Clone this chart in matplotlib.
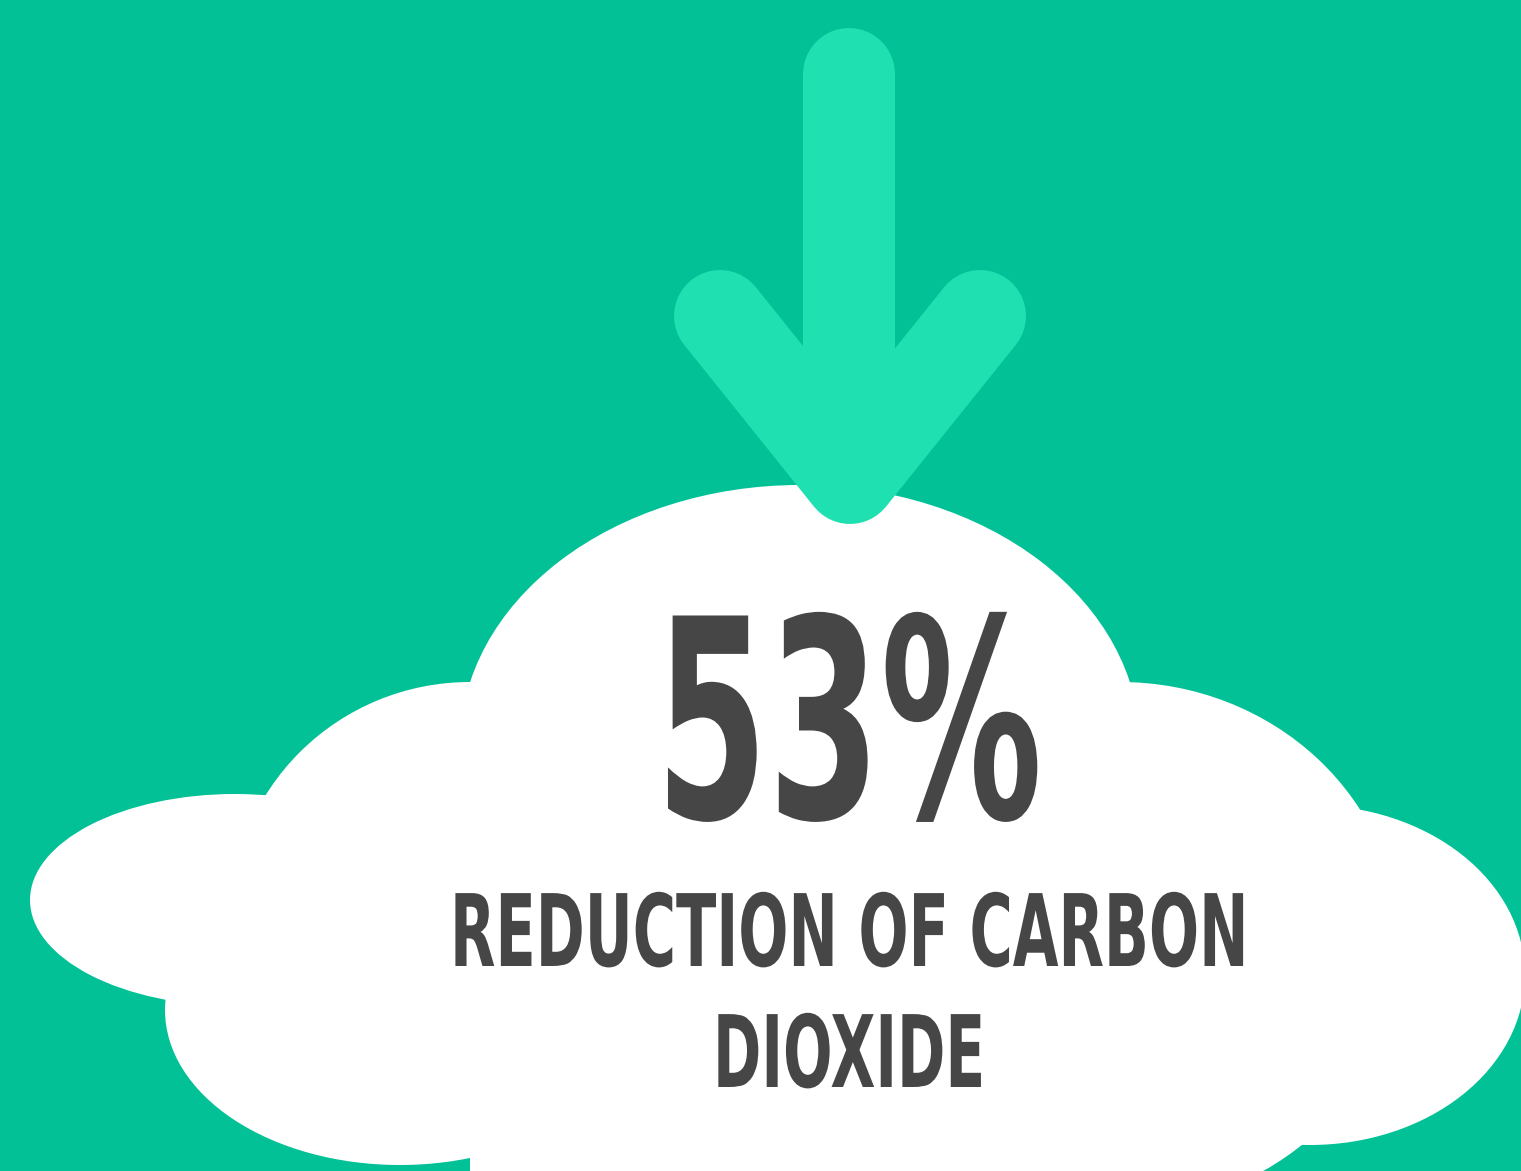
import matplotlib
matplotlib.use('Agg')
import matplotlib.pyplot as plt
from matplotlib.patches import Ellipse, Rectangle
from matplotlib.patheffects import AbstractPathEffect
from matplotlib.transforms import Affine2D

# figure content
percent = 53
caption_lines = ['REDUCTION OF CARBON', 'DIOXIDE']

bg_color = '#02c196'
arrow_color = '#1fe0b0'
text_color = '#464646'


class Squeeze(AbstractPathEffect):
    # rescales the glyphs around an anchor point (display pixels)
    def __init__(self, sx, sy, cx, cy):
        super().__init__()
        self.sx, self.sy = sx, sy
        self.cx, self.cy = cx, cy

    def draw_path(self, renderer, gc, tpath, affine, rgbFace=None):
        a = affine + Affine2D().translate(-self.cx, -self.cy) \
            .scale(self.sx, self.sy).translate(self.cx, self.cy)
        renderer.draw_path(gc, tpath, a, rgbFace)


W, H = 1521, 1171
fig = plt.figure(figsize=(W / 100, H / 100), dpi=100)
fig.patch.set_facecolor(bg_color)
ax = fig.add_axes([0, 0, 1, 1])
ax.set_xlim(0, W)
ax.set_ylim(H, 0)
ax.axis('off')
ax.set_facecolor(bg_color)

# cloud built from overlapping ellipses
blobs = [
    ((800, 745), 680, 520),
    ((235, 900), 410, 212),
    ((470, 920), 480, 476),
    ((400, 1010), 470, 310),
    ((1120, 945), 560, 526),
    ((1310, 975), 430, 340),
]
for c, w, h in blobs:
    ax.add_patch(Ellipse(c, w, h, facecolor='white', edgecolor='none', zorder=1))
ax.add_patch(Rectangle((470, 850), 700, 330, facecolor='white', edgecolor='none', zorder=1))

# arrow
lw = 92 * 72 / 100
ax.plot([849, 849], [74, 470], color=arrow_color, lw=lw, solid_capstyle='round', zorder=2)
ax.plot([720, 850, 980], [316, 478, 316], color=arrow_color, lw=lw,
        solid_capstyle='round', solid_joinstyle='round', zorder=2)

# text: (string, baseline y, drawn size, wanted size, wanted width)
specs = [
    (f'{percent}%', 818, 200, 200, 387),
    (caption_lines[0], 966, 40, 72, 798),
    (caption_lines[1], 1087, 40, 72, 272),
]
texts = []
for s, y, fs, fs_want, target in specs:
    t = ax.text(849, y, s, ha='center', va='baseline', fontsize=fs,
                fontweight='bold', color=text_color, family='DejaVu Sans', zorder=3)
    texts.append((t, y, fs_want / fs, target))

fig.canvas.draw()
r = fig.canvas.get_renderer()
for t, y, sy, target in texts:
    bb = t.get_window_extent(renderer=r)
    cx, cy = ax.transData.transform((849, y))
    t.set_path_effects([Squeeze(target / bb.width, sy, (bb.x0 + bb.x1) / 2, cy)])

fig.savefig('out.png', dpi=100, facecolor=bg_color)
